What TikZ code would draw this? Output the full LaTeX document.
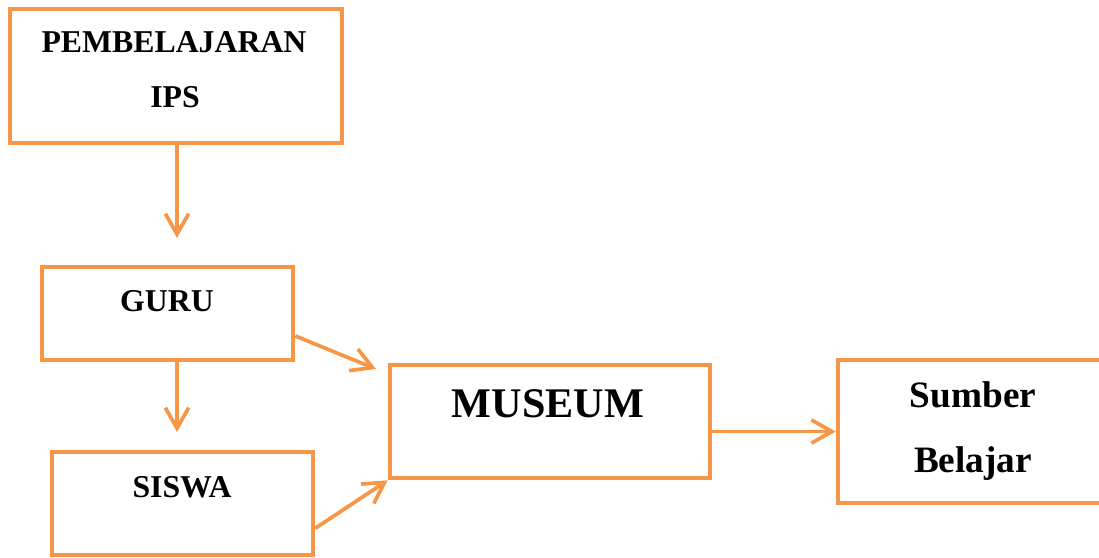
\documentclass[tikz,border=0pt]{standalone}
\usepackage{fontspec}
\setmainfont{Liberation Serif}
\usetikzlibrary{arrows.meta,positioning,fit,calc}
\definecolor{boxorange}{RGB}{247,150,70}

\begin{document}
\begin{tikzpicture}[x=0.365pt, y=-0.365pt,
        box/.style={draw=boxorange, line width=1.7pt, inner sep=0pt},
        caption/.style={font=\bfseries\fontsize{11.6}{14}\selectfont, anchor=base, inner sep=0pt},
        link/.style={draw=boxorange, line width=1.35pt, -{Straight Barb[length=7.5pt,width=8.5pt]}}]
        \useasboundingbox (0,0) rectangle (1099,557);

        % Boxes
        \node[box, fit={(10,9) (342,143)}] (ips) {};
        \node[box, fit={(42,267) (293,360)}] (guru) {};
        \node[box, fit={(52,452) (313,555)}] (siswa) {};
        \node[box, fit={(390,365) (710,478)}] (museum) {};
        \node[box, fit={(838,360) (1110,503)}] (sumber) {};

        % Texts
        \node[caption] (ipstop) at (174,52) {PEMBELAJARAN};
        \node[caption] (ipsbot) at (175,107) {IPS};
        \node[caption] (gurutext) at (167,311) {GURU};
        \node[caption] (siswatext) at (182,497) {SISWA};
        \node[caption, font=\bfseries\fontsize{15.4}{19}\selectfont] (museumtext) at (548,417) {MUSEUM};
        \node[caption, font=\bfseries\fontsize{13.6}{17}\selectfont] (sumbertext) at (973,407) {Sumber};
        \node[caption, font=\bfseries\fontsize{13.6}{17}\selectfont] (belajartext) at (973,472) {Belajar};

        % Arrows
        \coordinate (ipstip) at (177,238);
        \coordinate (gurutip) at (177,432);
        \coordinate (museumtip) at (376,369);
        \draw[link] (ips.south -| ipstip) -- (ipstip);
        \draw[link] (guru.south -| gurutip) -- (gurutip);
        \draw[link] ($(guru.south east)!0.27!(guru.north east)$) -- (museumtip);
        \draw[link] ($(siswa.south east)!0.27!(siswa.north east)$) -- (museum.south west);
        \draw[link] (museum.east |- sumber.west) -- (sumber.west);
    \end{tikzpicture}
\end{document}
